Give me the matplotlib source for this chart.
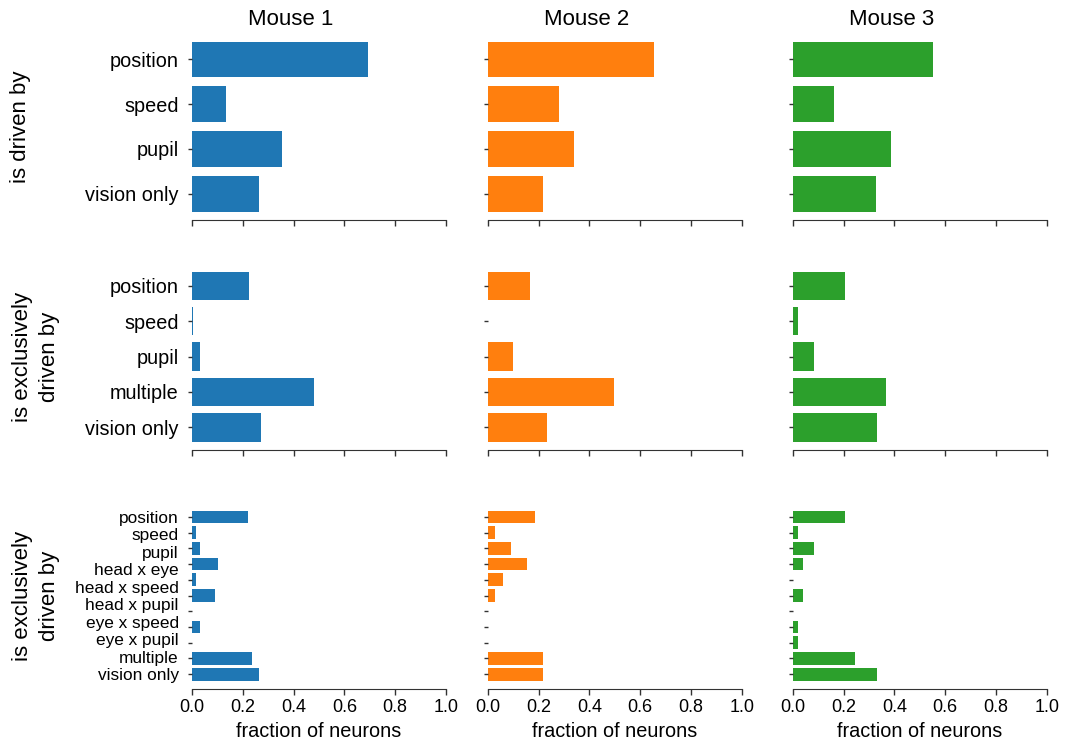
import numpy as np
import matplotlib
matplotlib.use("Agg")
import matplotlib.pyplot as plt

plt.rcParams['font.family'] = ['Liberation Sans', 'DejaVu Sans']

mice = ["Mouse 1", "Mouse 2", "Mouse 3"]
colors = ["#1f77b4", "#ff7f0e", "#2ca02c"]

row_labels = ["is driven by", "is exclusively\ndriven by", "is exclusively\ndriven by"]

cats_driven = ["position", "speed", "pupil", "vision only"]
driven_m1 = [0.693, 0.133, 0.354, 0.265]
driven_m2 = [0.655, 0.280, 0.341, 0.217]
driven_m3 = [0.552, 0.164, 0.388, 0.327]

cats_excl = ["position", "speed", "pupil", "multiple", "vision only"]
excl_m1 = [0.226, 0.002, 0.031, 0.480, 0.270]
excl_m2 = [0.167, 0.003, 0.098, 0.498, 0.232]
excl_m3 = [0.207, 0.022, 0.083, 0.368, 0.330]

# fine breakdown: 11 bars drawn, 10 tick labels shown
labels_fine = ["position", "speed", "pupil", "head x eye", "head x speed",
               "head x pupil", "eye x speed", "eye x pupil", "multiple", "vision only"]
fine_m1 = [0.220, 0.016, 0.030, 0.102, 0.016, 0.089, 0.001, 0.030, 0.001, 0.236, 0.265]
fine_m2 = [0.186, 0.030, 0.090, 0.155, 0.060, 0.030, 0.002, 0.002, 0.002, 0.218, 0.218]
fine_m3 = [0.207, 0.022, 0.083, 0.042, 0.001, 0.042, 0.001, 0.022, 0.022, 0.246, 0.330]

xticks = [0.0, 0.2, 0.4, 0.6, 0.8, 1.0]

rows = [
    (cats_driven, [driven_m1, driven_m2, driven_m3]),
    (cats_excl, [excl_m1, excl_m2, excl_m3]),
    (labels_fine, [fine_m1, fine_m2, fine_m3]),
]

W, H = 1068, 745
fig = plt.figure(figsize=(W / 100, H / 100), dpi=100)

col_left = [192, 487.7, 792.7]
col_w = 254
row_top = [33, 263, 502]
row_h = 187

for r, (cats, series) in enumerate(rows):
    for c in range(3):
        ax = fig.add_axes([col_left[c] / W, 1 - (row_top[r] + row_h) / H, col_w / W, row_h / H])
        vals = series[c]
        n = len(vals)
        ypos = np.arange(n)
        ax.barh(ypos, vals, height=0.8, color=colors[c])
        ax.set_xlim(0, 1)
        ax.invert_yaxis()
        for s in ["top", "right", "left"]:
            ax.spines[s].set_visible(False)
        ax.spines["bottom"].set_color("#333333")
        ax.set_xticks(xticks)
        ax.tick_params(axis="both", colors="#333333", length=4, width=1)
        ax.tick_params(axis="y", length=3, pad=6.5)
        ax.set_yticks(ypos)
        if r == 2:
            ax.yaxis.remove_overlapping_locs = False
            ax.set_yticklabels([""] * n)
            if c == 0:
                ax.set_yticks(np.linspace(0, n - 1, len(cats)), minor=True)
                ax.set_yticklabels(cats, minor=True, fontsize=12.4, color="black")
                ax.tick_params(axis="y", which="minor", length=0, pad=9.5)
            ax.set_xticklabels([f"{t:.1f}" for t in xticks], fontsize=13, color="black")
            ax.set_xlabel("fraction of neurons", fontsize=14.3, labelpad=4)
        else:
            ax.set_xticklabels([])
            if c == 0:
                ax.set_yticklabels(cats, fontsize=14.3, color="black")
            else:
                ax.set_yticklabels([])
        if r == 0:
            ax.set_title(mice[c], fontsize=16, pad=6, x=0.39)

    cy = 1 - (row_top[r] + row_h / 2) / H
    xlab = 21 / W if r == 0 else 36 / W
    fig.text(xlab, cy, row_labels[r], rotation=90, ha="center", va="center",
             fontsize=16, multialignment="center", linespacing=1.4)

fig.savefig("out.png", dpi=100)
